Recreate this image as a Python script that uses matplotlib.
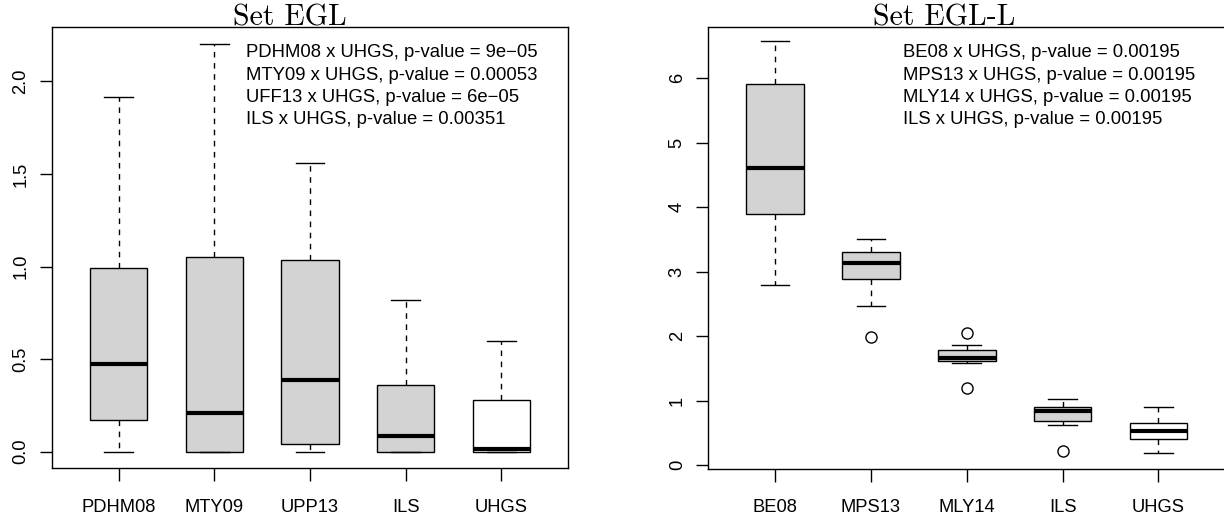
import matplotlib
matplotlib.use("Agg")
import matplotlib.pyplot as plt

plt.rcParams['font.family'] = ['Liberation Sans', 'DejaVu Sans']

# Set EGL (left panel)
egl_labels = ['PDHM08', 'MTY09', 'UPP13', 'ILS', 'UHGS']
egl_whislo = [0.0, 0.0, 0.0, 0.0, 0.0]
egl_q1 = [0.171, 0.0, 0.042, 0.0, 0.0]
egl_med = [0.471, 0.207, 0.388, 0.085, 0.014]
egl_q3 = [0.993, 1.05, 1.035, 0.359, 0.28]
egl_whishi = [1.914, 2.204, 1.557, 0.818, 0.596]
egl_fliers = [[], [], [], [], []]
egl_notes = ['PDHM08 x UHGS, p-value = 9e\u221205',
             'MTY09 x UHGS, p-value = 0.00053',
             'UFF13 x UHGS, p-value = 6e\u221205',
             'ILS x UHGS, p-value = 0.00351']

# Set EGL-L (right panel)
egll_labels = ['BE08', 'MPS13', 'MLY14', 'ILS', 'UHGS']
egll_whislo = [2.80, 2.477, 1.586, 0.617, 0.197]
egll_q1 = [3.891, 2.886, 1.617, 0.694, 0.404]
egll_med = [4.608, 3.135, 1.658, 0.834, 0.528]
egll_q3 = [5.906, 3.309, 1.788, 0.902, 0.648]
egll_whishi = [6.571, 3.506, 1.86, 1.031, 0.896]
egll_fliers = [[], [1.995], [2.057, 1.192], [0.223], []]
egll_notes = ['BE08 x UHGS, p-value = 0.00195',
              'MPS13 x UHGS, p-value = 0.00195',
              'MLY14 x UHGS, p-value = 0.00195',
              'ILS x UHGS, p-value = 0.00195']

fill_colors = ['#D3D3D3', '#D3D3D3', '#D3D3D3', '#D3D3D3', 'white']

W, H = 1224, 518
fig = plt.figure(figsize=(W / 100, H / 100), dpi=100)


def px_axes(left, top, right, bottom):
    return fig.add_axes([left / W, 1 - bottom / H, (right - left) / W, (bottom - top) / H])


def draw_panel(ax, labels, whislo, q1, med, q3, whishi, fliers, ylim, yticks, yfmt):
    stats = []
    for i in range(len(labels)):
        stats.append(dict(label=labels[i], whislo=whislo[i], q1=q1[i], med=med[i],
                          q3=q3[i], whishi=whishi[i], fliers=fliers[i]))
    bp = ax.bxp(stats, positions=range(1, len(labels) + 1), widths=0.6, capwidths=0.3,
                patch_artist=True,
                boxprops=dict(edgecolor='black', linewidth=1.0),
                medianprops=dict(color='black', linewidth=3.0, solid_capstyle='butt'),
                whiskerprops=dict(color='black', linewidth=1.0, linestyle=(0, (4, 4))),
                capprops=dict(color='black', linewidth=1.0),
                flierprops=dict(marker='o', markerfacecolor='none', markeredgecolor='black',
                                markersize=8, markeredgewidth=1.0))
    for patch, c in zip(bp['boxes'], fill_colors):
        patch.set_facecolor(c)
    ax.set_xlim(0.3, 5.7)
    ax.set_ylim(*ylim)
    ax.set_yticks(yticks)
    ax.set_yticklabels([yfmt.format(v) for v in yticks], rotation=90, va='center')
    ax.tick_params(axis='both', length=9, width=1.0, labelsize=13.2, color='black')
    ax.tick_params(axis='x', pad=13)
    ax.tick_params(axis='y', pad=7)
    for s in ax.spines.values():
        s.set_linewidth(1.0)


ax1 = px_axes(51.7, 27.3, 568.3, 468)
draw_panel(ax1, egl_labels, egl_whislo, egl_q1, egl_med, egl_q3, egl_whishi, egl_fliers,
           (-0.088, 2.292), [0.0, 0.5, 1.0, 1.5, 2.0], '{:.1f}')

ax2 = px_axes(708, 27.3, 1225.5, 468.7)
draw_panel(ax2, egll_labels, egll_whislo, egll_q1, egll_med, egll_q3, egll_whishi, egll_fliers,
           (-0.053, 6.79), [0, 1, 2, 3, 4, 5, 6], '{:d}')

# titles (Computer Modern look)
fig.text(290 / W, 1 - 25 / H, 'Set EGL', family='cmr10', fontsize=21.5, ha='center', va='baseline')
fig.text(944.6 / W, 1 - 25 / H, 'Set EGL-L', family='cmr10', fontsize=21.5, ha='center', va='baseline')

# p-value notes
for i, t in enumerate(egl_notes):
    fig.text(246 / W, 1 - (57.3 + 22.2 * i) / H, t, fontsize=13.3, va='baseline')
for i, t in enumerate(egll_notes):
    fig.text(902.7 / W, 1 - (57.3 + 22.2 * i) / H, t, fontsize=13.3, va='baseline')

fig.savefig('out.png', dpi=100)
